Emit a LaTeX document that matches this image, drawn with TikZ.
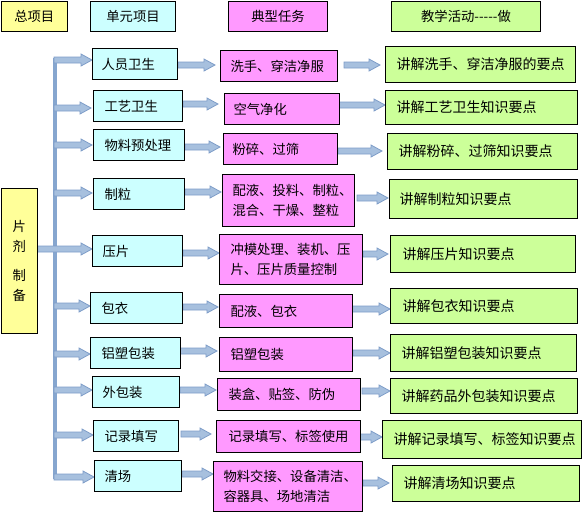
\documentclass[tikz,border=0pt]{standalone}
\usepackage{fontspec}
\setmainfont{Noto Sans CJK SC}
\usetikzlibrary{calc,backgrounds}
\definecolor{boxyellow}{HTML}{FFFF99}
\definecolor{boxcyan}{HTML}{CCFFFF}
\definecolor{boxpink}{HTML}{FF99FF}
\definecolor{boxgreen}{HTML}{CCFF99}
\definecolor{arrfill}{HTML}{A7C0DE}
\definecolor{arredge}{HTML}{7E9DC8}
\definecolor{trunkc}{HTML}{86A6CF}

% left-aligned box: name, style, x1, y1, x2, y2, pad(px), text
\newcommand{\lbox}[8]{%
  \pgfmathsetmacro\tmpw{(#5-#3-2*#7)*0.75}%
  \pgfmathsetmacro\tmph{(#6-#4)*0.75}%
  \pgfmathsetmacro\tmpp{#7*0.75}%
  \node[#2, anchor=north west, text width=\tmpw pt, inner xsep=\tmpp pt,
        inner ysep=0pt, minimum height=\tmph pt, align=left] (#1) at (#3,#4) {#8};}
% centred box: name, style, x1, y1, x2, y2, text
\newcommand{\cbox}[7]{%
  \pgfmathsetmacro\tmpw{(#5-#3)*0.75}%
  \pgfmathsetmacro\tmph{(#6-#4)*0.75}%
  \node[#2, anchor=north west, minimum width=\tmpw pt, minimum height=\tmph pt,
        inner sep=0pt, align=center] (#1) at (#3,#4) {#7};}
% block arrow: start, end, start gap (px), end gap (px)
\newcommand{\barrow}[4]{%
  \draw[barr] let \p1=#1, \p2=#2 in
    (\x1+#3*0.75pt,\y1+2.25pt) -- (\x2-#4*0.75pt-8.25pt,\y1+2.25pt)
    -- (\x2-#4*0.75pt-8.25pt,\y1+4.5pt) -- (\x2-#4*0.75pt,\y1)
    -- (\x2-#4*0.75pt-8.25pt,\y1-4.5pt) -- (\x2-#4*0.75pt-8.25pt,\y1-2.25pt)
    -- (\x1+#3*0.75pt,\y1-2.25pt) -- cycle;}

\begin{document}
\begin{tikzpicture}[x=0.75pt,y=-0.75pt,
  cellbox/.style={draw=black, line width=0.75pt},
  ybox/.style={cellbox, fill=boxyellow},
  ubox/.style={cellbox, fill=boxcyan, font=\fontsize{10}{13}\selectfont},
  tbox/.style={cellbox, fill=boxpink, font=\fontsize{10}{15.5}\selectfont},
  abox/.style={cellbox, fill=boxgreen, font=\fontsize{10.5}{14}\selectfont},
  hfont/.style={font=\fontsize{10}{12}\selectfont},
  barr/.style={fill=arrfill, draw=arredge, line width=0.6pt},
  trunk/.style={draw=trunkc, line width=3pt}]
\useasboundingbox (0,0) rectangle (582,512);

% headers
\cbox{h1}{ybox,hfont}{0.5}{0.5}{67}{31}{总项目}
\cbox{h2}{ubox,hfont}{90}{0.5}{175}{31}{单元项目}
\cbox{h3}{tbox,hfont}{228}{0.5}{327}{31}{典型任务}
\cbox{h4}{abox,hfont}{391}{0.5}{540}{31}{教学活动-{}-{}-{}-{}-做}

% left main box
\cbox{L}{ybox,font=\fontsize{10}{15}\selectfont}{0.5}{188}{37}{333}{片\\剂\\[6.75pt]制\\备}

% unit boxes
\lbox{u1}{ubox}{92}{48}{177}{79}{9}{人员卫生}
\lbox{u2}{ubox}{93}{90}{182}{121}{11}{工艺卫生}
\lbox{u3}{ubox}{93}{129}{184}{160}{11}{物料预处理}
\lbox{u4}{ubox}{93}{178}{184}{209}{11}{制粒}
\lbox{u5}{ubox}{92}{235}{182}{266}{10}{压片}
\lbox{u6}{ubox}{90}{292}{182}{323}{11}{包衣}
\lbox{u7}{ubox}{90}{337}{180}{368}{11}{铝塑包装}
\lbox{u8}{ubox}{92}{376}{179}{407}{10}{外包装}
\lbox{u9}{ubox}{93}{420}{178}{451}{11}{记录填写}
\lbox{u10}{ubox}{94}{460}{181}{491}{10}{清场}

% task boxes
\lbox{t1}{tbox}{220}{50}{337}{81}{10}{洗手、穿洁净服}
\lbox{t2}{tbox}{224}{93}{339}{124}{9}{空气净化}
\lbox{t3}{tbox}{223}{133}{337}{164}{9}{粉碎、过筛}
\lbox{t4}{tbox}{222}{174}{354}{226}{10}{配液、投料、制粒、\\混合、干燥、整粒}
\lbox{t5}{tbox}{219}{234}{362}{284}{11}{冲模处理、装机、压\\片、压片质量控制}
\lbox{t6}{tbox}{219}{294}{352}{327}{11}{配液、包衣}
\lbox{t7}{tbox}{219}{337}{352}{371}{11}{铝塑包装}
\lbox{t8}{tbox}{217}{378}{360}{410}{11}{装盒、贴签、防伪}
\lbox{t9}{tbox}{216}{420}{360}{452}{12}{记录填写、标签使用}
\lbox{t10}{tbox}{213}{461}{362}{511}{10}{物料交接、设备清洁、\\容器具、场地清洁}

% activity boxes
\lbox{a1}{abox}{385}{46}{575}{82}{11}{讲解洗手、穿洁净服的要点}
\lbox{a2}{abox}{385}{90}{577}{124}{11}{讲解工艺卫生知识要点}
\lbox{a3}{abox}{387}{133}{577}{169}{11}{讲解粉碎、过筛知识要点}
\lbox{a4}{abox}{389}{179}{577}{218}{10}{讲解制粒知识要点}
\lbox{a5}{abox}{390}{235}{575}{272}{12}{讲解压片知识要点}
\lbox{a6}{abox}{390}{288}{577}{323}{12}{讲解包衣知识要点}
\lbox{a7}{abox}{390}{334}{576}{371}{11}{讲解铝塑包装知识要点}
\lbox{a8}{abox}{390}{378}{577}{413}{11}{讲解药品外包装知识要点}
\lbox{a9}{abox}{382}{420}{581}{458}{11}{讲解记录填写、标签知识要点}
\lbox{a10}{abox}{392}{465}{579}{501}{11}{讲解清场知识要点}

% trunk coordinates
\coordinate (c1) at (55,60);
\coordinate (c2) at (55,108);
\coordinate (c3) at (55,145);
\coordinate (c4) at (55,193);
\coordinate (c6) at (55,306);
\coordinate (c7) at (55,354);
\coordinate (c8) at (55,390);
\coordinate (c9) at (55,435);
\coordinate (c10) at (55,477);

\begin{scope}[on background layer]
  \draw[trunk] ([yshift=1.5pt]c1) -- ([yshift=-1.5pt]c10);
  % trunk to units
  \barrow{(c1)}{(u1.west)}{-1}{0}
  \barrow{(c2)}{(u2.west)}{-1}{2}
  \barrow{(c3)}{(u3.west)}{-1}{1}
  \barrow{(c4)}{(u4.west)}{-1}{1}
  \barrow{(L.east |- 0,249)}{(u5.west)}{-1}{0}
  \barrow{(c6)}{(u6.west)}{-1}{0}
  \barrow{(c7)}{(u7.west)}{-1}{0}
  \barrow{(c8)}{(u8.west)}{-1}{0}
  \barrow{(c9)}{(u9.west)}{-1}{0}
  \barrow{(c10)}{(u10.west)}{-1}{0}
  % units to tasks
  \barrow{(u1.east |- 0,65)}{(t1.west)}{0}{5}
  \barrow{(u2.east |- 0,104)}{(t2.west)}{0}{6}
  \barrow{(u3.east |- 0,147)}{(t3.west)}{0}{3}
  \barrow{(u4.east |- 0,192)}{(t4.west)}{0}{1}
  \barrow{(u5.east |- 0,253)}{(t5.west)}{0}{0}
  \barrow{(u6.east |- 0,307)}{(t6.west)}{0}{1}
  \barrow{(u7.east |- 0,351)}{(t7.west)}{-2}{2}
  \barrow{(u8.east |- 0,390)}{(t8.west)}{0}{1}
  \barrow{(u9.east |- 0,434)}{(t9.west)}{2}{5}
  \barrow{(u10.east |- 0,474)}{(t10.west)}{0}{0}
  % tasks to activities
  \barrow{(t1.east |- 0,65)}{(a1.west)}{6}{5}
  \barrow{(t2.east |- 0,105)}{(a2.west)}{-2}{0}
  \barrow{(t3.east |- 0,151)}{(a3.west)}{0}{5}
  \barrow{(t4.east |- 0,198)}{(a4.west)}{2}{1}
  \barrow{(t5.east |- 0,254)}{(a5.west)}{0}{2}
  \barrow{(t6.east |- 0,309)}{(a6.west)}{-1}{0}
  \barrow{(t7.east |- 0,353)}{(a7.west)}{0}{0}
  \barrow{(t8.east |- 0,391)}{(a8.west)}{1}{0}
  \barrow{(t9.east |- 0,437)}{(a9.west)}{-1}{0}
  \barrow{(t10.east |- 0,483)}{(a10.west)}{0}{3}
\end{scope}
\end{tikzpicture}
\end{document}
